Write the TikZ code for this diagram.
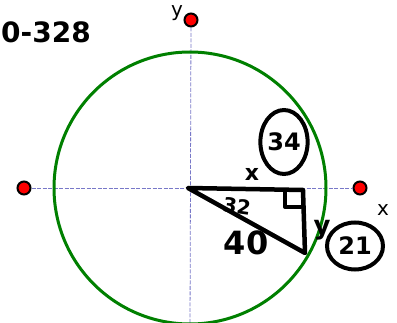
\documentclass[tikz,border=0pt]{standalone}
\usepackage{fontspec}
\setsansfont{DejaVu Sans}
\usetikzlibrary{shapes.geometric}
\definecolor{axisc}{RGB}{120,120,200}
\definecolor{circc}{RGB}{0,128,0}
\tikzset{
  axis/.style={axisc, line width=0.8pt, dash pattern=on 4pt off 1.5pt},
  pt/.style={circle, fill=red, draw=black, line width=2pt, inner sep=0pt, minimum size=13pt},
  hand/.style={font=\sffamily\bfseries, text=black, inner sep=0pt},
  ink/.style={black, line width=4.5pt, line join=round, line cap=round},
  ring/.style={ellipse, draw=black, line width=4pt, inner sep=0pt, font=\sffamily\bfseries\fontsize{24}{24}\selectfont},
  lab/.style={font=\sffamily\fontsize{20}{20}\selectfont, inner sep=0pt}
}
\begin{document}
\begin{tikzpicture}[x=1pt,y=-1pt]
\useasboundingbox (0,0) rectangle (397,323);
\fill[white] (0,0) rectangle (397,323);
\coordinate (O) at (190,188);
\node[pt] (ytop) at (191,20) {};
\node[pt] (xl) at (24,188) {};
\node[pt] (xr) at (360,188) {};
\draw[axis] (xl) -- (xr);
\draw[axis] (ytop) -- (190,330);
\draw[circc, line width=3pt] (O) circle (136);
\node[lab] (ylab) at (177,13) {y};
\node[lab] (xlab) at (383,210) {x};
% handwriting
\node[hand, font=\sffamily\bfseries\fontsize{28}{28}\selectfont, anchor=west] (title) at (1,32) {0-328};
\coordinate (A) at (188,188);
\coordinate (B) at (303,190);
\coordinate (C) at (305,253);
\draw[ink] (A) -- (B) -- (C) -- cycle;
\draw[ink, line width=4pt] (285,191) -- (285,207) -- (301,207);
\node[hand, font=\sffamily\bfseries\fontsize{20}{20}\selectfont, rotate=-8] (n32) at (237,206) {32};
\node[hand, font=\sffamily\bfseries\fontsize{32}{32}\selectfont] (n40) at (246,243) {40};
\node[hand, font=\sffamily\bfseries\fontsize{22}{22}\selectfont] (xs) at (252,174) {x};
\node[ring, minimum width=47pt, minimum height=64pt] (c34) at (284,142) {34};
\node[hand, font=\sffamily\bfseries\fontsize{26}{26}\selectfont] (ys) at (322,230) {y};
\node[ring, minimum width=56pt, minimum height=47pt] (c21) at (355,246) {21};
\end{tikzpicture}
\end{document}
